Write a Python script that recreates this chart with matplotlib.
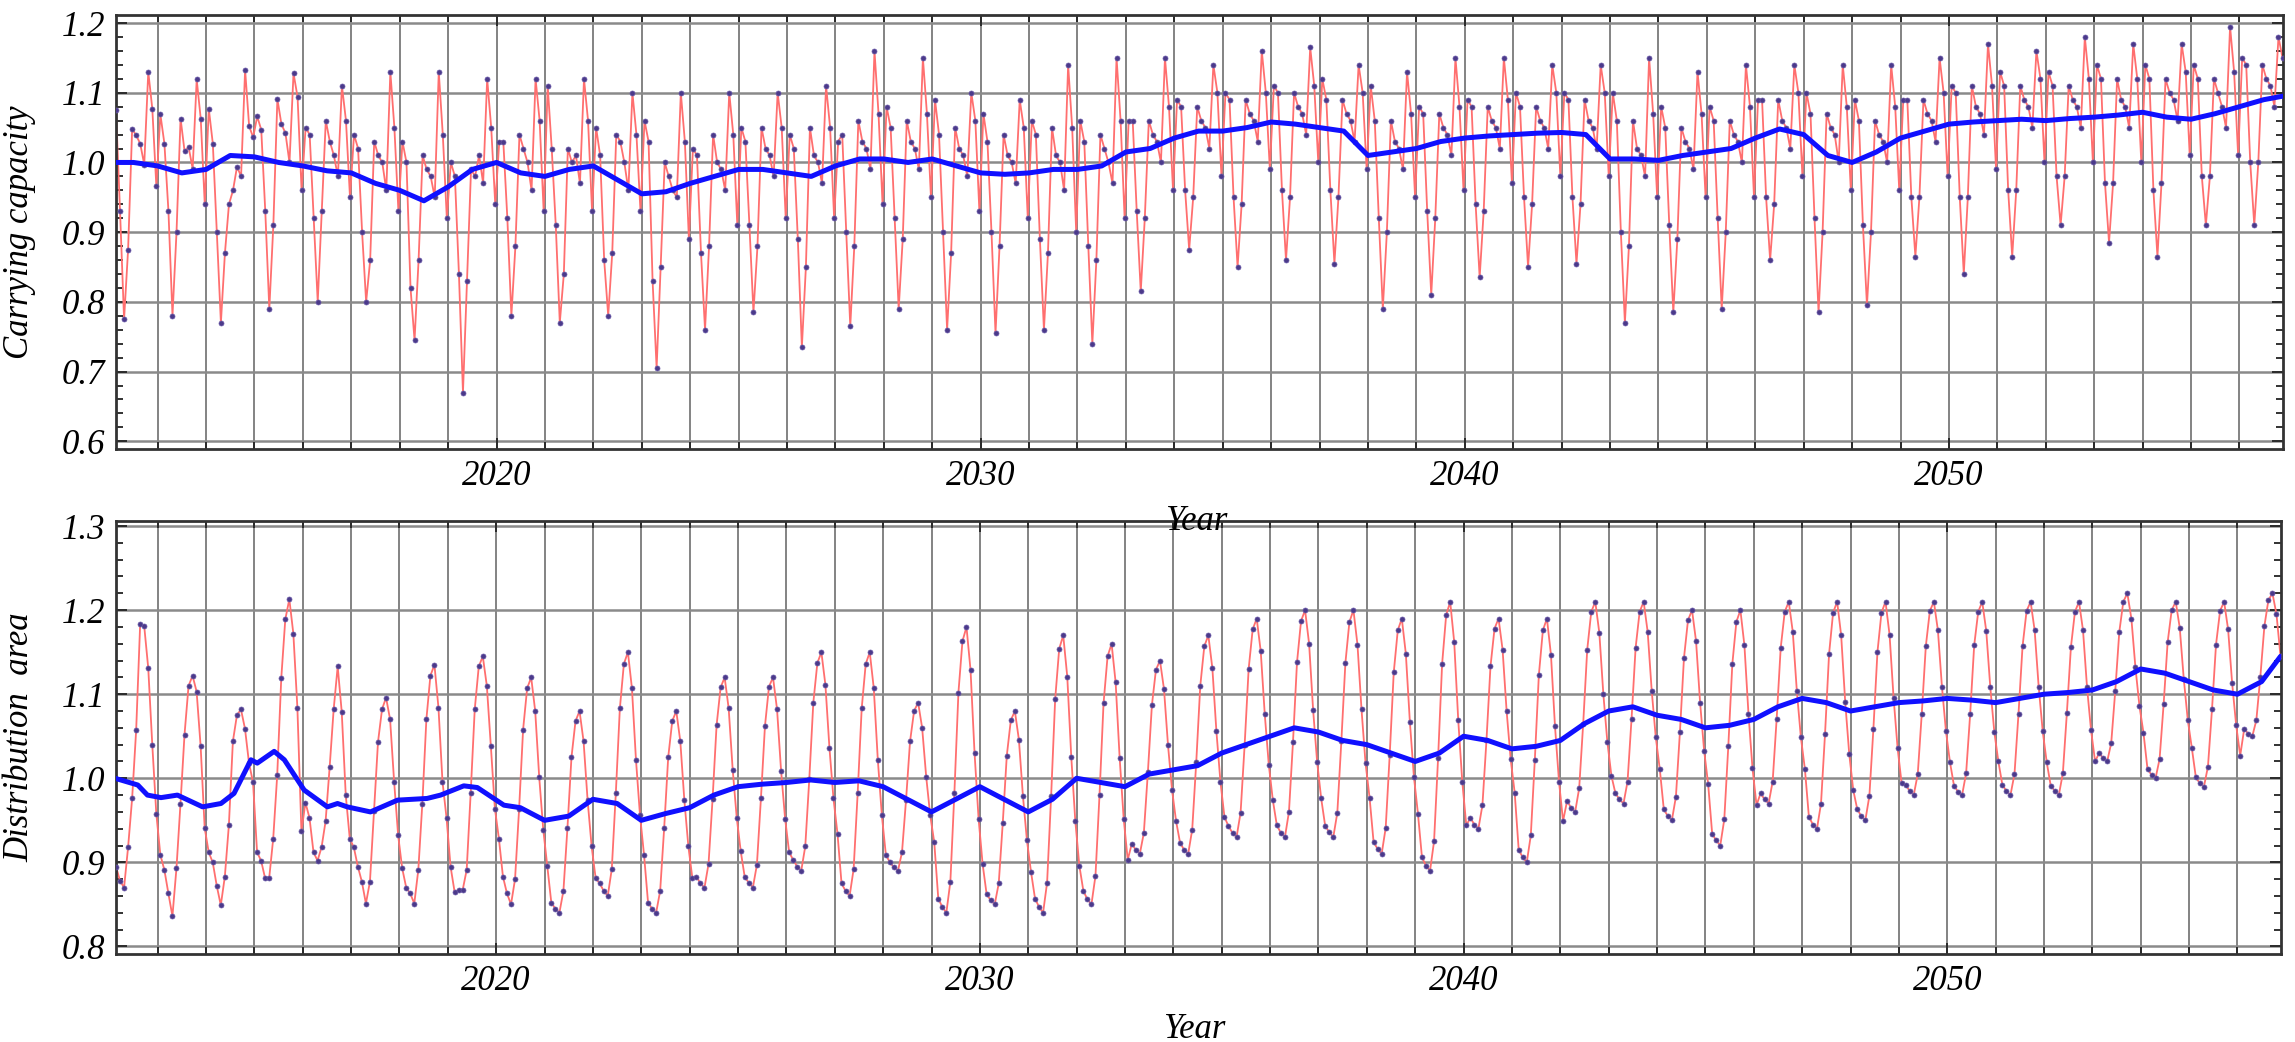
import matplotlib
matplotlib.use("Agg")
import matplotlib.pyplot as plt
import numpy as np
from matplotlib.ticker import MultipleLocator, FormatStrFormatter

# monthly series, first month sits at the left edge of the time axis
T0 = 2012.14
T1 = 2056.90

# carrying capacity, one row per year (12 months)
capacity = [
    1.075, 0.930, 0.775, 0.875, 1.048, 1.039, 1.027, 0.997, 1.130, 1.077, 0.966, 1.069,
    1.027, 0.930, 0.780, 0.900, 1.063, 1.016, 1.022, 0.991, 1.119, 1.063, 0.940, 1.077,
    1.027, 0.900, 0.770, 0.870, 0.940, 0.960, 0.994, 0.980, 1.133, 1.052, 1.036, 1.066,
    1.047, 0.930, 0.790, 0.910, 1.091, 1.055, 1.042, 1.000, 1.128, 1.094, 0.960, 1.050,
    1.040, 0.920, 0.800, 0.930, 1.060, 1.030, 1.010, 0.980, 1.110, 1.060, 0.950, 1.040,
    1.020, 0.900, 0.800, 0.860, 1.030, 1.010, 1.000, 0.960, 1.130, 1.050, 0.930, 1.030,
    1.000, 0.820, 0.745, 0.860, 1.010, 0.990, 0.980, 0.950, 1.130, 1.040, 0.920, 1.000,
    0.980, 0.840, 0.670, 0.830, 0.990, 0.980, 1.010, 0.970, 1.120, 1.050, 0.940, 1.030,
    1.030, 0.920, 0.780, 0.880, 1.040, 1.020, 1.000, 0.960, 1.120, 1.060, 0.930, 1.110,
    1.020, 0.910, 0.770, 0.840, 1.020, 1.000, 1.010, 0.970, 1.120, 1.060, 0.930, 1.050,
    1.010, 0.860, 0.780, 0.870, 1.040, 1.030, 1.000, 0.960, 1.100, 1.040, 0.930, 1.060,
    1.030, 0.830, 0.705, 0.850, 1.000, 0.980, 0.960, 0.950, 1.100, 1.030, 0.890, 1.020,
    1.010, 0.870, 0.760, 0.880, 1.040, 1.000, 0.990, 0.960, 1.100, 1.040, 0.910, 1.050,
    1.030, 0.910, 0.785, 0.880, 1.050, 1.020, 1.010, 0.980, 1.100, 1.050, 0.920, 1.040,
    1.020, 0.890, 0.735, 0.850, 1.050, 1.010, 1.000, 0.970, 1.110, 1.050, 0.920, 1.030,
    1.040, 0.900, 0.765, 0.880, 1.060, 1.030, 1.020, 0.990, 1.160, 1.070, 0.940, 1.080,
    1.050, 0.920, 0.790, 0.890, 1.060, 1.030, 1.020, 0.990, 1.150, 1.070, 0.950, 1.090,
    1.040, 0.900, 0.760, 0.870, 1.050, 1.020, 1.010, 0.980, 1.100, 1.060, 0.930, 1.070,
    1.030, 0.900, 0.755, 0.880, 1.040, 1.010, 1.000, 0.970, 1.090, 1.050, 0.920, 1.060,
    1.040, 0.890, 0.760, 0.870, 1.050, 1.010, 1.000, 0.960, 1.140, 1.050, 0.900, 1.060,
    1.030, 0.880, 0.740, 0.860, 1.040, 1.020, 1.000, 0.970, 1.150, 1.060, 0.920, 1.060,
    1.060, 0.930, 0.815, 0.920, 1.060, 1.040, 1.030, 1.000, 1.150, 1.080, 0.960, 1.090,
    1.080, 0.960, 0.875, 0.950, 1.080, 1.060, 1.050, 1.020, 1.140, 1.100, 0.980, 1.100,
    1.090, 0.950, 0.850, 0.940, 1.090, 1.070, 1.060, 1.030, 1.160, 1.100, 0.990, 1.110,
    1.100, 0.960, 0.860, 0.950, 1.100, 1.080, 1.070, 1.040, 1.165, 1.110, 1.000, 1.120,
    1.090, 0.960, 0.855, 0.950, 1.090, 1.070, 1.060, 1.030, 1.140, 1.100, 0.990, 1.110,
    1.060, 0.920, 0.790, 0.900, 1.060, 1.030, 1.020, 0.990, 1.130, 1.070, 0.950, 1.080,
    1.070, 0.930, 0.810, 0.920, 1.070, 1.050, 1.040, 1.010, 1.150, 1.080, 0.960, 1.090,
    1.080, 0.940, 0.835, 0.930, 1.080, 1.060, 1.050, 1.020, 1.150, 1.090, 0.970, 1.100,
    1.080, 0.950, 0.850, 0.940, 1.080, 1.060, 1.050, 1.020, 1.140, 1.100, 0.980, 1.100,
    1.090, 0.950, 0.855, 0.940, 1.090, 1.060, 1.050, 1.020, 1.140, 1.100, 0.980, 1.100,
    1.060, 0.900, 0.770, 0.880, 1.060, 1.020, 1.010, 0.980, 1.150, 1.070, 0.950, 1.080,
    1.050, 0.910, 0.785, 0.890, 1.050, 1.030, 1.020, 0.990, 1.130, 1.070, 0.950, 1.080,
    1.060, 0.920, 0.790, 0.900, 1.060, 1.040, 1.030, 1.000, 1.140, 1.080, 0.950, 1.090,
    1.090, 0.950, 0.860, 0.940, 1.090, 1.060, 1.050, 1.020, 1.140, 1.100, 0.980, 1.100,
    1.070, 0.920, 0.785, 0.900, 1.070, 1.050, 1.040, 1.000, 1.140, 1.080, 0.960, 1.090,
    1.060, 0.910, 0.795, 0.900, 1.060, 1.040, 1.030, 1.000, 1.140, 1.080, 0.960, 1.090,
    1.090, 0.950, 0.865, 0.950, 1.090, 1.070, 1.060, 1.030, 1.150, 1.100, 0.980, 1.110,
    1.100, 0.950, 0.840, 0.950, 1.110, 1.080, 1.070, 1.040, 1.170, 1.110, 0.990, 1.130,
    1.110, 0.960, 0.865, 0.960, 1.110, 1.090, 1.080, 1.050, 1.160, 1.120, 1.000, 1.130,
    1.110, 0.980, 0.910, 0.980, 1.110, 1.090, 1.080, 1.050, 1.180, 1.120, 1.000, 1.140,
    1.120, 0.970, 0.885, 0.970, 1.120, 1.090, 1.080, 1.050, 1.170, 1.120, 1.000, 1.140,
    1.120, 0.960, 0.865, 0.970, 1.120, 1.100, 1.090, 1.060, 1.170, 1.130, 1.010, 1.140,
    1.120, 0.980, 0.910, 0.980, 1.120, 1.100, 1.080, 1.050, 1.195, 1.130, 1.010, 1.150,
    1.140, 1.000, 0.910, 1.000, 1.140, 1.120, 1.110, 1.080, 1.180, 1.150,
]

# distribution area, one row per year (12 months)
area = [
    0.895, 0.878, 0.870, 0.918, 0.976, 1.057, 1.184, 1.181, 1.131, 1.040, 0.958, 0.909,
    0.891, 0.863, 0.836, 0.893, 0.970, 1.052, 1.110, 1.122, 1.103, 1.038, 0.941, 0.912,
    0.900, 0.872, 0.849, 0.883, 0.944, 1.044, 1.075, 1.082, 1.059, 1.018, 0.995, 0.912,
    0.902, 0.881, 0.881, 0.928, 1.004, 1.119, 1.189, 1.213, 1.172, 1.084, 0.937, 0.971,
    0.953, 0.912, 0.902, 0.918, 0.949, 1.013, 1.082, 1.133, 1.079, 0.980, 0.928, 0.918,
    0.895, 0.877, 0.851, 0.877, 0.961, 1.043, 1.082, 1.096, 1.070, 0.996, 0.932, 0.893,
    0.870, 0.863, 0.851, 0.891, 0.970, 1.070, 1.122, 1.135, 1.084, 0.996, 0.953, 0.895,
    0.865, 0.867, 0.867, 0.891, 0.983, 1.082, 1.133, 1.145, 1.110, 1.038, 0.964, 0.928,
    0.883, 0.863, 0.850, 0.880, 0.963, 1.058, 1.107, 1.120, 1.080, 1.001, 0.939, 0.896,
    0.852, 0.845, 0.840, 0.866, 0.941, 1.025, 1.068, 1.080, 1.044, 0.974, 0.919, 0.881,
    0.875, 0.866, 0.860, 0.892, 0.982, 1.083, 1.136, 1.150, 1.107, 1.022, 0.956, 0.909,
    0.852, 0.845, 0.840, 0.866, 0.941, 1.025, 1.068, 1.080, 1.044, 0.974, 0.919, 0.881,
    0.883, 0.875, 0.870, 0.898, 0.975, 1.063, 1.108, 1.120, 1.083, 1.010, 0.953, 0.913,
    0.882, 0.876, 0.870, 0.897, 0.976, 1.062, 1.109, 1.120, 1.082, 1.009, 0.952, 0.912,
    0.903, 0.895, 0.890, 0.919, 0.999, 1.090, 1.137, 1.150, 1.111, 1.036, 0.976, 0.934,
    0.875, 0.866, 0.860, 0.892, 0.982, 1.083, 1.136, 1.150, 1.107, 1.022, 0.956, 0.909,
    0.900, 0.894, 0.890, 0.912, 0.974, 1.044, 1.080, 1.090, 1.060, 1.002, 0.956, 0.924,
    0.857, 0.847, 0.840, 0.877, 0.983, 1.102, 1.163, 1.180, 1.129, 1.030, 0.952, 0.898,
    0.862, 0.855, 0.850, 0.875, 0.947, 1.027, 1.069, 1.080, 1.046, 0.979, 0.926, 0.889,
    0.857, 0.847, 0.840, 0.876, 0.979, 1.094, 1.154, 1.170, 1.121, 1.025, 0.949, 0.896,
    0.866, 0.856, 0.850, 0.884, 0.980, 1.089, 1.145, 1.160, 1.114, 1.024, 0.952, 0.903,
    0.922, 0.915, 0.910, 0.935, 1.007, 1.087, 1.129, 1.140, 1.106, 1.039, 0.986, 0.949,
    0.923, 0.915, 0.910, 0.939, 1.019, 1.110, 1.157, 1.170, 1.131, 1.056, 0.996, 0.954,
    0.943, 0.935, 0.930, 0.959, 1.039, 1.130, 1.177, 1.190, 1.151, 1.076, 1.016, 0.974,
    0.944, 0.935, 0.930, 0.960, 1.043, 1.138, 1.187, 1.200, 1.160, 1.081, 1.019, 0.976,
    0.943, 0.936, 0.930, 0.959, 1.044, 1.137, 1.186, 1.200, 1.159, 1.082, 1.018, 0.977,
    0.924, 0.916, 0.910, 0.941, 1.028, 1.126, 1.176, 1.190, 1.148, 1.067, 1.002, 0.958,
    0.906, 0.896, 0.890, 0.925, 1.024, 1.136, 1.194, 1.210, 1.162, 1.069, 0.996, 0.944,
    0.953, 0.945, 0.940, 0.968, 1.045, 1.133, 1.178, 1.190, 1.153, 1.080, 1.023, 0.983,
    0.915, 0.906, 0.900, 0.932, 1.022, 1.123, 1.176, 1.190, 1.147, 1.062, 0.996, 0.949,
    0.973, 0.965, 0.960, 0.988, 1.065, 1.153, 1.198, 1.210, 1.173, 1.100, 1.043, 1.003,
    0.982, 0.975, 0.970, 0.996, 1.071, 1.155, 1.198, 1.210, 1.174, 1.104, 1.049, 1.011,
    0.963, 0.955, 0.950, 0.978, 1.055, 1.143, 1.188, 1.200, 1.163, 1.090, 1.033, 0.993,
    0.934, 0.926, 0.920, 0.951, 1.038, 1.136, 1.186, 1.200, 1.158, 1.077, 1.012, 0.968,
    0.982, 0.975, 0.970, 0.996, 1.071, 1.155, 1.198, 1.210, 1.174, 1.104, 1.049, 1.011,
    0.954, 0.945, 0.940, 0.970, 1.053, 1.148, 1.197, 1.210, 1.170, 1.091, 1.029, 0.986,
    0.963, 0.955, 0.950, 0.979, 1.059, 1.150, 1.197, 1.210, 1.171, 1.096, 1.036, 0.994,
    0.992, 0.985, 0.980, 1.005, 1.077, 1.157, 1.199, 1.210, 1.176, 1.109, 1.056, 1.019,
    0.991, 0.984, 0.980, 1.006, 1.076, 1.158, 1.198, 1.210, 1.175, 1.108, 1.055, 1.020,
    0.992, 0.985, 0.980, 1.005, 1.077, 1.157, 1.199, 1.210, 1.176, 1.109, 1.056, 1.019,
    0.991, 0.985, 0.980, 1.006, 1.078, 1.156, 1.198, 1.210, 1.176, 1.108, 1.057, 1.020,
    1.030, 1.024, 1.020, 1.042, 1.104, 1.174, 1.210, 1.220, 1.190, 1.132, 1.086, 1.054,
    1.011, 1.004, 1.000, 1.023, 1.088, 1.162, 1.200, 1.210, 1.179, 1.118, 1.069, 1.036,
    1.001, 0.994, 0.990, 1.014, 1.082, 1.159, 1.199, 1.210, 1.177, 1.113, 1.063, 1.027,
    1.059, 1.053, 1.050, 1.069, 1.121, 1.181, 1.212, 1.220, 1.195, 1.145,
]

# smoothed trend lines (blue)
cap_trend_t = [2012.14, 2012.5, 2013.0, 2013.5, 2014.0, 2014.5, 2015.0, 2015.5, 2016.0, 2016.5,
               2017.0, 2017.5, 2018.0, 2018.5, 2019.0, 2019.5, 2020.0, 2020.5, 2021.0, 2021.5,
               2022.0, 2022.5, 2023.0, 2023.5, 2024.0, 2024.5, 2025.0, 2025.5, 2026.0, 2026.5,
               2027.0, 2027.5, 2028.0, 2028.5, 2029.0, 2029.5, 2030.0, 2030.5, 2031.0, 2031.5,
               2032.0, 2032.5, 2033.0, 2033.5, 2034.0, 2034.5, 2035.0, 2035.5, 2036.0, 2036.5,
               2037.0, 2037.5, 2038.0, 2038.5, 2039.0, 2039.5, 2040.0, 2040.5, 2041.0, 2041.5,
               2042.0, 2042.5, 2043.0, 2043.5, 2044.0, 2044.5, 2045.0, 2045.5, 2046.0, 2046.5,
               2047.0, 2047.5, 2048.0, 2048.5, 2049.0, 2049.5, 2050.0, 2050.5, 2051.0, 2051.5,
               2052.0, 2052.5, 2053.0, 2053.5, 2054.0, 2054.5, 2055.0, 2055.5, 2056.0, 2056.5,
               2056.89]
cap_trend = [1.000, 1.000, 0.995, 0.985, 0.990, 1.010, 1.008, 1.000, 0.995, 0.988,
             0.985, 0.970, 0.960, 0.945, 0.965, 0.990, 1.000, 0.985, 0.980, 0.990,
             0.995, 0.975, 0.955, 0.958, 0.970, 0.980, 0.990, 0.990, 0.985, 0.980,
             0.995, 1.005, 1.005, 1.000, 1.005, 0.995, 0.985, 0.983, 0.985, 0.990,
             0.990, 0.995, 1.015, 1.020, 1.035, 1.045, 1.045, 1.050, 1.058, 1.055,
             1.050, 1.045, 1.010, 1.015, 1.020, 1.030, 1.035, 1.038, 1.040, 1.042,
             1.043, 1.040, 1.005, 1.005, 1.003, 1.010, 1.015, 1.020, 1.035, 1.048,
             1.040, 1.010, 1.000, 1.015, 1.035, 1.045, 1.055, 1.058, 1.060, 1.062,
             1.060, 1.063, 1.065, 1.068, 1.072, 1.065, 1.062, 1.070, 1.080, 1.090,
             1.095]

area_trend_t = [2012.12, 2012.59, 2012.79, 2013.07, 2013.41, 2013.93, 2014.31, 2014.58,
                2014.93, 2015.06, 2015.41, 2015.62, 2016.03, 2016.51, 2016.72, 2016.92,
                2017.40, 2017.96, 2018.57, 2018.85, 2019.33, 2019.61, 2020.16,
                2020.5, 2021.0, 2021.5, 2022.0, 2022.5, 2023.0, 2023.5, 2024.0, 2024.5,
                2025.0, 2025.5, 2026.0, 2026.5, 2027.0, 2027.5, 2028.0, 2028.5, 2029.0,
                2029.5, 2030.0, 2030.5, 2031.0, 2031.5, 2032.0, 2032.5, 2033.0, 2033.5,
                2034.0, 2034.5, 2035.0, 2035.5, 2036.0, 2036.5, 2037.0, 2037.5, 2038.0,
                2038.5, 2039.0, 2039.5, 2040.0, 2040.5, 2041.0, 2041.5, 2042.0, 2042.5,
                2043.0, 2043.5, 2044.0, 2044.5, 2045.0, 2045.5, 2046.0, 2046.5, 2047.0,
                2047.5, 2048.0, 2048.5, 2049.0, 2049.5, 2050.0, 2050.5, 2051.0, 2051.5,
                2052.0, 2052.5, 2053.0, 2053.5, 2054.0, 2054.5, 2055.0, 2055.5, 2056.0,
                2056.5, 2056.89]
area_trend = [1.000, 0.992, 0.980, 0.977, 0.980, 0.966, 0.970, 0.982,
              1.022, 1.018, 1.032, 1.022, 0.986, 0.966, 0.970, 0.966,
              0.960, 0.974, 0.976, 0.980, 0.991, 0.989, 0.968,
              0.965, 0.950, 0.955, 0.975, 0.970, 0.950, 0.958, 0.965, 0.980,
              0.990, 0.993, 0.995, 0.998, 0.995, 0.997, 0.990, 0.975, 0.960,
              0.975, 0.990, 0.975, 0.960, 0.975, 1.000, 0.995, 0.990, 1.005,
              1.010, 1.015, 1.030, 1.040, 1.050, 1.060, 1.055, 1.045, 1.040,
              1.030, 1.020, 1.030, 1.050, 1.045, 1.035, 1.038, 1.045, 1.065,
              1.080, 1.085, 1.075, 1.070, 1.060, 1.063, 1.070, 1.085, 1.095,
              1.090, 1.080, 1.085, 1.090, 1.092, 1.095, 1.093, 1.090, 1.095,
              1.100, 1.102, 1.105, 1.115, 1.130, 1.125, 1.115, 1.105, 1.100,
              1.115, 1.145]

plt.rcParams["font.family"] = ["Liberation Serif", "DejaVu Serif"]
plt.rcParams["font.style"] = "italic"

W, H = 2295, 1042
fig = plt.figure(figsize=(W / 100, H / 100), dpi=100)


def box(l, t, r, b):
    return [l / W, 1 - b / H, (r - l) / W, (b - t) / H]


ax1 = fig.add_axes(box(116, 15, 2283, 449))
ax2 = fig.add_axes(box(116, 521, 2281, 954))

panels = [
    (ax1, capacity, cap_trend_t, cap_trend, (0.589, 1.2115), "Carrying capacity"),
    (ax2, area, area_trend_t, area_trend, (0.791, 1.306), "Distribution  area"),
]

for ax, vals, tt, tv, ylim, ylab in panels:
    months = T0 + np.arange(len(vals)) / 12.0
    # grid first so the data sits on top
    for yr in range(2013, 2057):
        ax.axvline(yr, color="#7a7a7a", lw=1.3, zorder=1)
    for gy in np.arange(np.ceil(ylim[0] * 10), np.floor(ylim[1] * 10) + 1) / 10:
        ax.axhline(gy, color="#8a8a8a", lw=1.8, zorder=1)

    ax.plot(months, vals, color="#ff6f6f", lw=1.3, zorder=2)
    ax.plot(months, vals, ls="none", marker="o", ms=3.6,
            color="#4b3a8a", mec="#6a5aa8", mew=0.5, zorder=3)
    ax.plot(tt, tv, color="#1010ff", lw=3.6, zorder=4, solid_capstyle="round")

    ax.set_xlim(T0, T1)
    ax.set_ylim(*ylim)
    ax.xaxis.set_major_locator(MultipleLocator(10))
    ax.xaxis.set_minor_locator(MultipleLocator(1))
    ax.yaxis.set_major_locator(MultipleLocator(0.1))
    ax.yaxis.set_minor_locator(MultipleLocator(0.02))
    ax.yaxis.set_major_formatter(FormatStrFormatter("%.1f"))
    ax.tick_params(which="both", direction="in", top=True, right=True,
                   color="#222222", labelsize=25, width=1.3)
    ax.tick_params(which="major", length=8, pad=8)
    ax.tick_params(which="minor", length=5)
    for s in ax.spines.values():
        s.set_color("#333333")
        s.set_linewidth(2.0)
    ax.set_ylabel(ylab, fontsize=25)
    ax.yaxis.set_label_coords(-0.037, 0.5)

fig.text(1196 / W, 1 - 521 / H, "Year", fontsize=25, ha="center", va="center")
fig.text(1194 / W, 1 - 1030 / H, "Year", fontsize=25, ha="center", va="center")

fig.savefig("out.png", dpi=100)
